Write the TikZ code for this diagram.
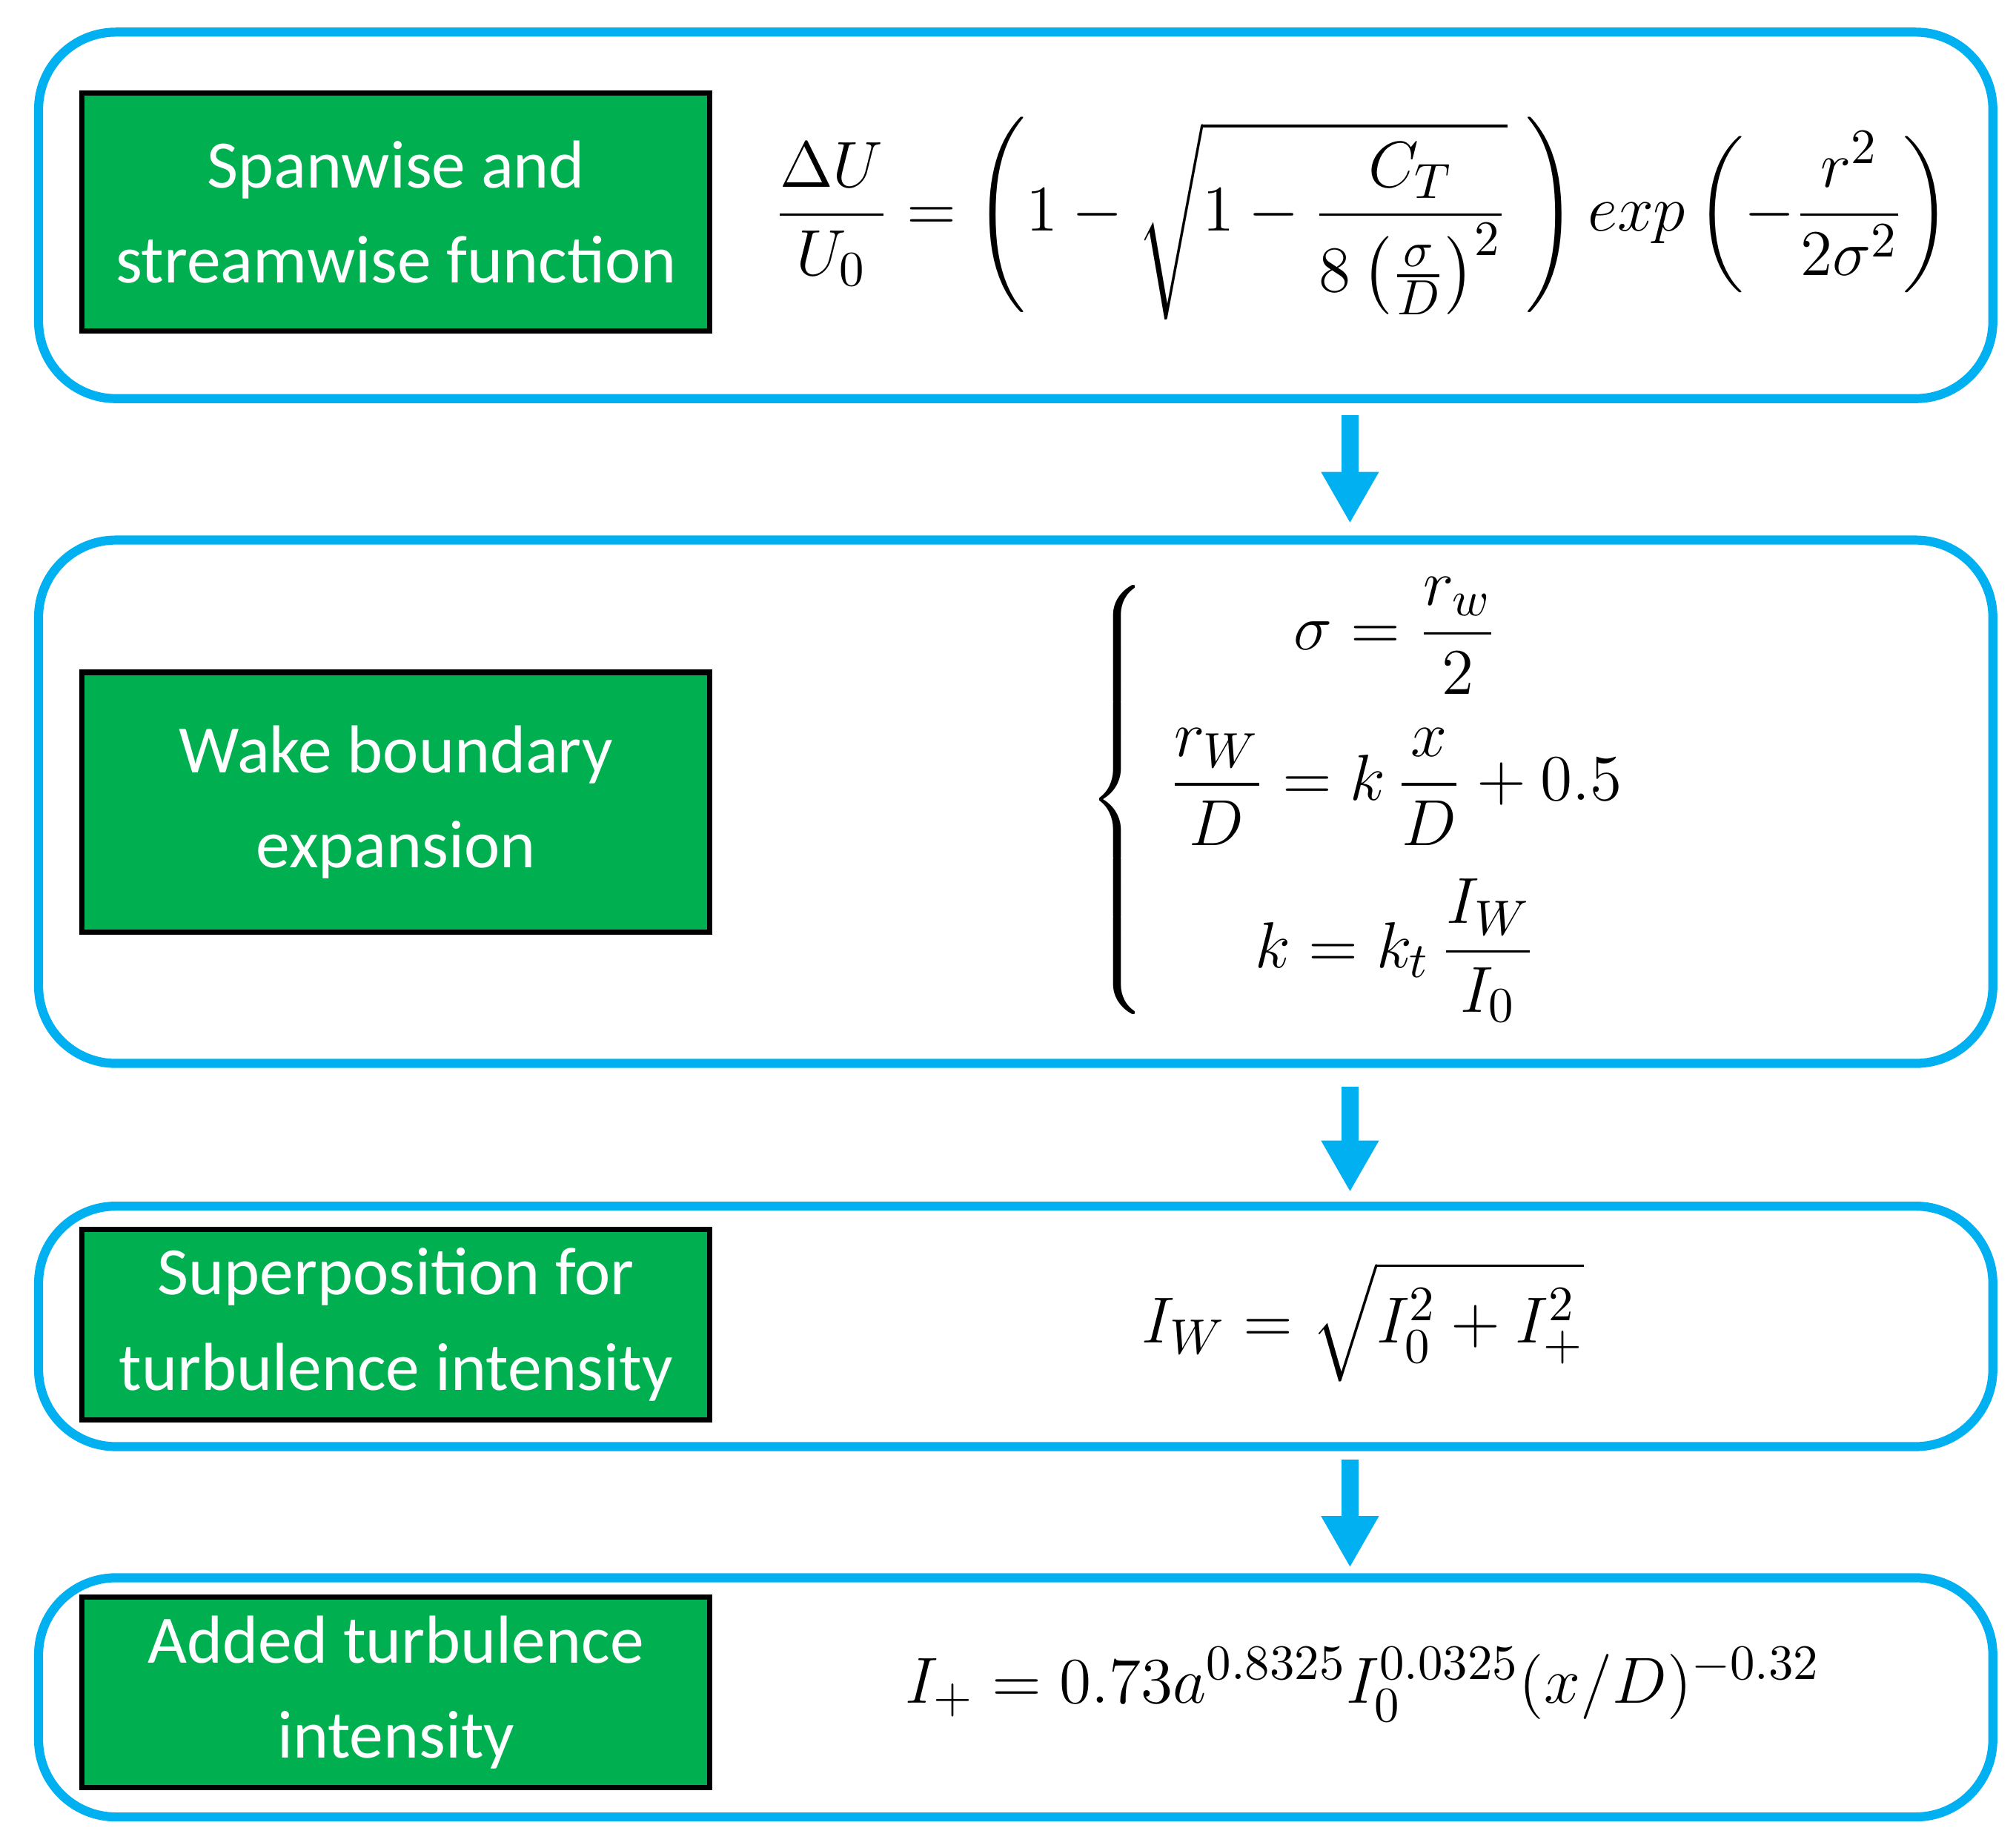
\documentclass[tikz,border=0pt]{standalone}
\usepackage{fontspec}
\usepackage{amsmath}
\newfontfamily\carl{Carlito}
\usetikzlibrary{arrows.meta}
\definecolor{cy}{HTML}{00B0F0}
\definecolor{gr}{HTML}{00B050}
\begin{document}
\begin{tikzpicture}[x=0.01cm,y=-0.01cm,
  outer/.style={draw=cy,line width=2pt,rounded corners=0.6cm},
  green/.style={draw=black,line width=1.2pt,fill=gr,text=white,align=center,font=\carl\fontsize{15}{21}\selectfont,inner sep=0},
  eq/.style={font=\fontsize{15}{18}\selectfont},
  arr/.style={draw=cy,line width=0.13cm,-{Triangle[length=0.4cm,width=0.42cm]}}]
\useasboundingbox (0,0) rectangle (1568,1437);
\draw[outer] (30,25) rectangle (1550,310);
\draw[outer] (30,420) rectangle (1550,827);
\draw[outer] (30,938) rectangle (1550,1125);
\draw[outer] (30,1227) rectangle (1550,1413);
\node[green,minimum width=4.88cm,minimum height=1.85cm] (g1) at (308,165) {Spanwise and\\streamwise function};
\node[green,minimum width=4.88cm,minimum height=2.02cm] (g2) at (308,624) {Wake boundary\\expansion};
\node[green,minimum width=4.88cm,minimum height=1.48cm] (g3) at (308,1030) {Superposition for\\turbulence intensity};
\node[green,minimum width=4.88cm,minimum height=1.48cm] (g4) at (308,1316) {Added turbulence\\intensity};
\node[eq] (e1) at (1060,170) {$\displaystyle\frac{\Delta U}{U_0}=\left(1-\sqrt{1-\frac{C_T}{8\left(\frac{\sigma}{D}\right)^2}}\;\right)exp\left(-\frac{r^2}{2\sigma^2}\right)$};
\node[eq] (e2) at (1065,622) {$\left\{\begin{array}{c}\displaystyle\sigma=\frac{r_w}{2}\\[12pt]\displaystyle\frac{r_W}{D}=k\,\frac{x}{D}+0.5\\[12pt]\displaystyle k=k_t\,\frac{I_W}{I_0}\end{array}\right.$};
\node[eq] (e3) at (1060,1028) {$I_W=\sqrt{I_0^2+I_+^2}$};
\node[eq] (e4) at (1060,1310) {$I_+=0.73a^{0.8325}I_0^{0.0325}(x/D)^{-0.32}$};
\coordinate (a1s) at (1050,323); \coordinate (a1e) at (1050,407);
\coordinate (a2s) at (1050,845); \coordinate (a2e) at (1050,927);
\coordinate (a3s) at (1050,1135); \coordinate (a3e) at (1050,1219);
\draw[arr] (a1s) -- (a1e);
\draw[arr] (a2s) -- (a2e);
\draw[arr] (a3s) -- (a3e);
\end{tikzpicture}
\end{document}
